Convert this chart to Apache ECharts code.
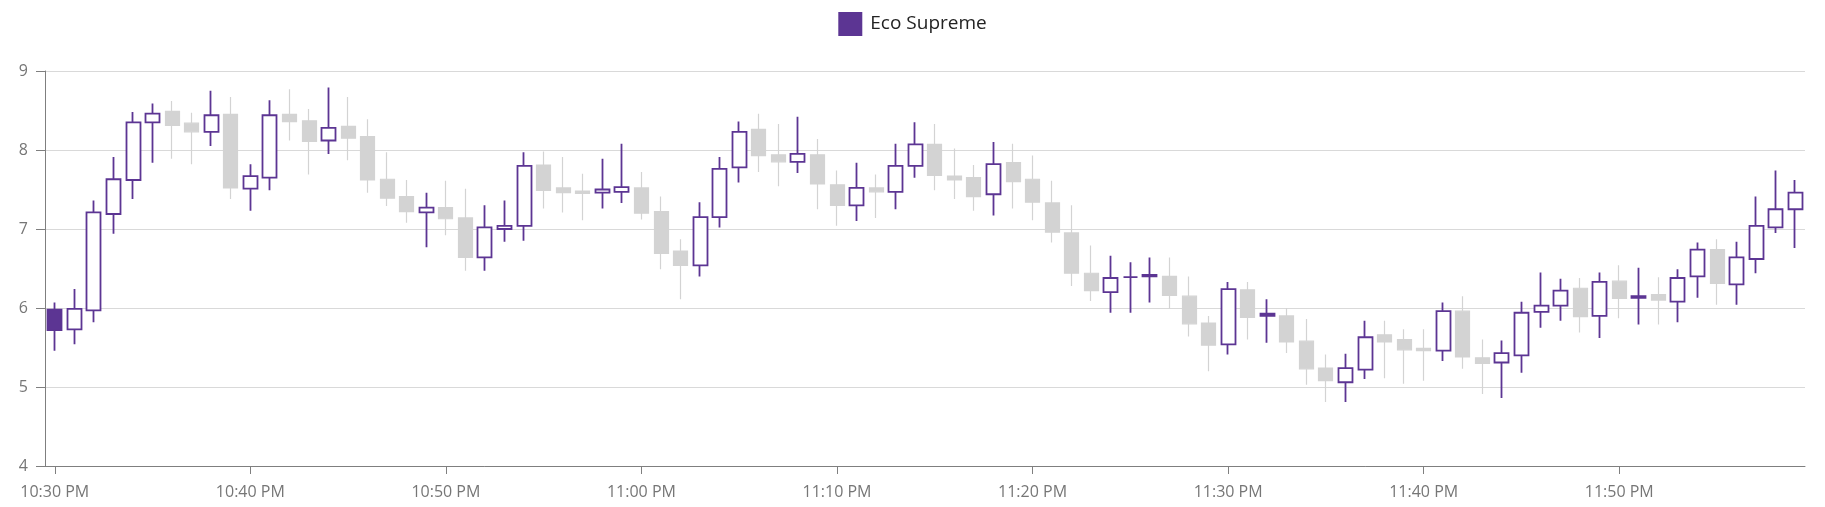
<!DOCTYPE html>
<html>
<head>
<meta charset="utf-8">
<script src="https://cdn.jsdelivr.net/npm/echarts@6/dist/echarts.min.js"></script>
<style>
html,body{margin:0;padding:0;background:#fff;}
#chart{width:1825px;height:507px;}
</style>
</head>
<body>
<div id="chart"></div>
<script>
const seriesName = 'Eco Supreme';
const times = [
 '10:30 PM','10:31 PM','10:32 PM','10:33 PM','10:34 PM','10:35 PM','10:36 PM','10:37 PM','10:38 PM','10:39 PM',
 '10:40 PM','10:41 PM','10:42 PM','10:43 PM','10:44 PM','10:45 PM','10:46 PM','10:47 PM','10:48 PM','10:49 PM',
 '10:50 PM','10:51 PM','10:52 PM','10:53 PM','10:54 PM','10:55 PM','10:56 PM','10:57 PM','10:58 PM','10:59 PM',
 '11:00 PM','11:01 PM','11:02 PM','11:03 PM','11:04 PM','11:05 PM','11:06 PM','11:07 PM','11:08 PM','11:09 PM',
 '11:10 PM','11:11 PM','11:12 PM','11:13 PM','11:14 PM','11:15 PM','11:16 PM','11:17 PM','11:18 PM','11:19 PM',
 '11:20 PM','11:21 PM','11:22 PM','11:23 PM','11:24 PM','11:25 PM','11:26 PM','11:27 PM','11:28 PM','11:29 PM',
 '11:30 PM','11:31 PM','11:32 PM','11:33 PM','11:34 PM','11:35 PM','11:36 PM','11:37 PM','11:38 PM','11:39 PM',
 '11:40 PM','11:41 PM','11:42 PM','11:43 PM','11:44 PM','11:45 PM','11:46 PM','11:47 PM','11:48 PM','11:49 PM',
 '11:50 PM','11:51 PM','11:52 PM','11:53 PM','11:54 PM','11:55 PM','11:56 PM','11:57 PM','11:58 PM','11:59 PM'
];
const openVals = [
 5.98,5.73,5.97,7.19,7.62,8.35,8.49,8.34,8.23,8.45,
 7.51,7.65,8.45,8.37,8.12,8.30,8.17,7.63,7.41,7.21,
 7.27,7.14,6.64,7.00,7.04,7.81,7.52,7.48,7.46,7.47,
 7.52,7.22,6.72,6.54,7.15,7.78,8.26,7.94,7.85,7.94,
 7.56,7.30,7.52,7.47,7.80,8.07,7.67,7.65,7.44,7.84,
 7.63,7.33,6.95,6.44,6.20,6.39,6.42,6.40,6.15,5.81,
 5.54,6.23,5.93,5.90,5.58,5.24,5.06,5.22,5.66,5.60,
 5.49,5.46,5.96,5.37,5.31,5.40,5.95,6.03,6.25,5.90,
 6.34,6.15,6.17,6.08,6.40,6.74,6.30,6.62,7.02,7.25
];
const closeVals = [
 5.72,5.99,7.21,7.63,8.35,8.46,8.31,8.23,8.44,7.52,
 7.67,8.44,8.36,8.11,8.28,8.15,7.62,7.39,7.22,7.27,
 7.13,6.64,7.02,7.04,7.80,7.49,7.46,7.45,7.50,7.53,
 7.20,6.69,6.54,7.15,7.76,8.23,7.93,7.85,7.95,7.57,
 7.30,7.52,7.47,7.80,8.07,7.68,7.62,7.41,7.82,7.60,
 7.34,6.96,6.44,6.22,6.38,6.39,6.40,6.16,5.80,5.53,
 6.24,5.88,5.90,5.57,5.23,5.08,5.24,5.63,5.57,5.47,
 5.46,5.96,5.38,5.30,5.43,5.94,6.03,6.22,5.89,6.33,
 6.12,6.13,6.10,6.38,6.74,6.31,6.64,7.04,7.25,7.46
];
const lowVals = [
 5.46,5.54,5.82,6.94,7.38,7.84,7.89,7.82,8.05,7.38,
 7.23,7.49,8.12,7.69,7.95,7.87,7.46,7.29,7.08,6.77,
 6.92,6.47,6.47,6.84,6.85,7.26,7.21,7.11,7.26,7.33,
 7.12,6.49,6.11,6.40,7.02,7.59,7.72,7.54,7.71,7.25,
 7.04,7.10,7.14,7.25,7.65,7.49,7.38,7.23,7.17,7.26,
 7.11,6.83,6.28,6.09,5.94,5.94,6.07,5.99,5.64,5.20,
 5.41,5.60,5.56,5.43,5.03,4.81,4.81,5.10,5.11,5.04,
 5.08,5.33,5.23,4.91,4.86,5.18,5.75,5.84,5.69,5.62,
 5.87,5.79,5.79,5.82,6.13,6.04,6.04,6.44,6.95,6.76
];
const highVals = [
 6.07,6.24,7.36,7.91,8.48,8.59,8.62,8.47,8.75,8.67,
 7.82,8.63,8.77,8.52,8.79,8.67,8.39,7.97,7.62,7.46,
 7.61,7.51,7.30,7.36,7.97,7.98,7.91,7.70,7.89,8.08,
 7.72,7.41,6.87,7.34,7.91,8.36,8.46,8.33,8.42,8.14,
 7.74,7.84,7.69,8.08,8.35,8.33,8.02,7.81,8.10,8.08,
 7.93,7.61,7.30,6.79,6.66,6.58,6.64,6.64,6.40,5.90,
 6.33,6.33,6.11,6.00,5.86,5.41,5.42,5.84,5.84,5.73,
 5.73,6.07,6.15,5.60,5.59,6.08,6.45,6.37,6.38,6.45,
 6.54,6.51,6.39,6.49,6.83,6.87,6.84,7.41,7.74,7.62
];
const yTicks = {min: 4, max: 9, interval: 1};

const PURPLE = '#5c3593';
const GRAY = '#d3d3d3';

const seriesData = times.map((t, i) => {
  const reduction = i > 0 && closeVals[i] < closeVals[i - 1];
  const col = reduction ? GRAY : PURPLE;
  const fill = closeVals[i] < openVals[i] ? col : '#ffffff';
  return {
    value: [openVals[i], closeVals[i], lowVals[i], highVals[i]],
    itemStyle: {
      color: fill, color0: fill,
      borderColor: col, borderColor0: col, borderColorDoji: col,
      borderWidth: reduction ? 1.2 : 1.8
    }
  };
});

const chart = echarts.init(document.getElementById('chart'), null, {renderer: 'canvas'});
const FONT = '"Open Sans", "Segoe UI", sans-serif';
chart.setOption({
  animation: false,
  backgroundColor: '#ffffff',
  legend: {
    top: 7,
    left: 'center',
    itemWidth: 24,
    itemHeight: 24,
    itemGap: 20,
    data: [{name: seriesName, icon: 'rect', itemStyle: {color: PURPLE, borderWidth: 0}}],
    textStyle: {fontFamily: FONT, fontSize: 19, color: '#232323', padding: [0, 0, 0, 3]}
  },
  grid: {left: 45, right: 20, top: 71, bottom: 41, containLabel: false},
  xAxis: {
    type: 'category',
    data: times,
    boundaryGap: true,
    axisLine: {show: true, lineStyle: {color: '#7f7f7f', width: 1}},
    axisTick: {show: true, alignWithLabel: true, interval: 9, length: 8, lineStyle: {color: '#7f7f7f'}},
    axisLabel: {interval: 9, margin: 18, fontFamily: FONT, fontSize: 16, color: '#767676'},
    splitLine: {show: false}
  },
  yAxis: {
    type: 'value',
    min: yTicks.min,
    max: yTicks.max,
    interval: yTicks.interval,
    axisLine: {show: true, lineStyle: {color: '#7f7f7f', width: 1}},
    axisTick: {show: true, length: 9, lineStyle: {color: '#7f7f7f'}},
    axisLabel: {margin: 17, fontFamily: FONT, fontSize: 16, color: '#767676'},
    splitLine: {show: true, lineStyle: {color: '#d9d9d9', width: 1}}
  },
  series: [{
    name: seriesName,
    type: 'candlestick',
    barWidth: 14.5,
    itemStyle: {color: PURPLE, color0: PURPLE, borderColor: PURPLE, borderColor0: PURPLE},
    data: seriesData
  }]
});
</script>
</body>
</html>
